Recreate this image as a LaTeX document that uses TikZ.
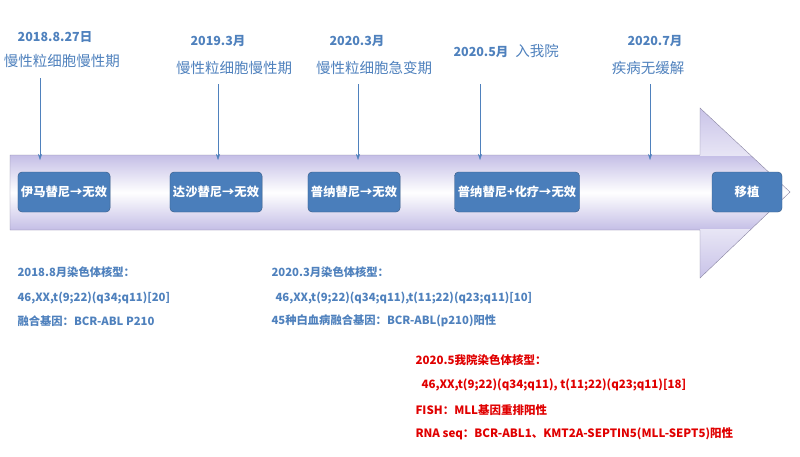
\documentclass[tikz,border=0pt]{standalone}
\usepackage{fontspec}
\setmainfont{Noto Sans CJK SC}
\usetikzlibrary{arrows.meta}
\definecolor{tb}{HTML}{4F81BD}
\definecolor{bx}{HTML}{4A7EBB}
\definecolor{lav}{HTML}{C4BEE6}
\definecolor{rd}{HTML}{E00000}
\begin{document}
\begin{tikzpicture}[x=1pt,y=-1pt,
  stage/.style={draw=bx!70!black,fill=bx,rounded corners=4pt,text=white,font=\bfseries\fontsize{12.3}{14}\selectfont,minimum height=40pt,inner sep=3pt},
  dt/.style={text=tb,font=\bfseries\fontsize{12.5}{14}\selectfont},
  ph/.style={text=tb,font=\fontsize{14.5}{16}\selectfont},
  inf/.style={text=tb,font=\bfseries\fontsize{11.3}{13}\selectfont,anchor=west},
  red/.style={text=rd,font=\bfseries\fontsize{11.5}{13}\selectfont,anchor=west},
  pt/.style={-{Stealth[length=6pt,width=4pt]},tb,thin}]
\useasboundingbox (0,0) rectangle (800,456);
\begin{scope}
\clip (10,155) -- (700,155) -- (700,108) -- (790,192) -- (700,278) -- (700,230) -- (10,230) -- cycle;
\shade[top color=lav,bottom color=lav,middle color=white] (10,155) rectangle (790,230);
\shade[top color=lav,bottom color=lav!40] (700,100) rectangle (790,155.5);
\shade[top color=lav!40,bottom color=lav] (700,229.5) rectangle (790,285);
\end{scope}
\draw[lav!70!black] (10,155) -- (700,155) -- (700,108) -- (790,192) -- (700,278) -- (700,230) -- (10,230) -- cycle;
\node[stage,minimum width=92pt] (b1) at (64,192) {伊马替尼→无效};
\node[stage,minimum width=92pt] (b2) at (216,192) {达沙替尼→无效};
\node[stage,minimum width=92pt] (b3) at (354,192) {普纳替尼→无效};
\node[stage,minimum width=125pt] (b4) at (517,192) {普纳替尼+化疗→无效};
\node[stage,minimum width=70pt] (b5) at (747,192) {移植};
\node[dt] (d1) at (55,37) {2018.8.27日};
\node[ph] (p1) at (62,61) {慢性粒细胞慢性期};
\node[dt] (d2) at (218,41) {2019.3月};
\node[ph] (p2) at (234,68) {慢性粒细胞慢性期};
\node[dt] (d3) at (357,41) {2020.3月};
\node[ph] (p3) at (374,68) {慢性粒细胞急变期};
\node[dt,anchor=west] (d4) at (450,51) {2020.5月\;\;\mdseries\fontsize{14.5}{16}\selectfont 入我院};
\node[dt] (d5) at (655,41) {2020.7月};
\node[ph] (p5) at (648,68) {疾病无缓解};
\coordinate (a1) at (40,160); \coordinate (a2) at (218,160);
\coordinate (a3) at (358,160); \coordinate (a4) at (480,160); \coordinate (a5) at (650,160);
\draw[pt] (40,78) -- (a1);
\draw[pt] (218,84) -- (a2);
\draw[pt] (358,84) -- (a3);
\draw[pt] (480,84) -- (a4);
\draw[pt] (650,84) -- (a5);
\node[inf] (i1) at (14,272) {2018.8月染色体核型：};
\node[inf] (i2) at (14,298) {46,XX,t(9;22)(q34;q11)[20]};
\node[inf] (i3) at (14,321) {融合基因：BCR-ABL P210};
\node[inf] (j1) at (268,272) {2020.3月染色体核型：};
\node[inf] (j2) at (272,298) {46,XX,t(9;22)(q34;q11),t(11;22)(q23;q11)[10]};
\node[inf] (j3) at (268,321) {45种白血病融合基因：BCR-ABL(p210)阳性};
\node[red] (r1) at (412,360) {2020.5我院染色体核型：};
\node[red] (r2) at (418,385) {46,XX,t(9;22)(q34;q11), t(11;22)(q23;q11)[18]};
\node[red] (r3) at (412,410) {FISH：MLL基因重排阳性};
\node[red] (r4) at (412,434) {RNA seq：BCR-ABL1、KMT2A-SEPTIN5(MLL-SEPT5)阳性};
\end{tikzpicture}
\end{document}
